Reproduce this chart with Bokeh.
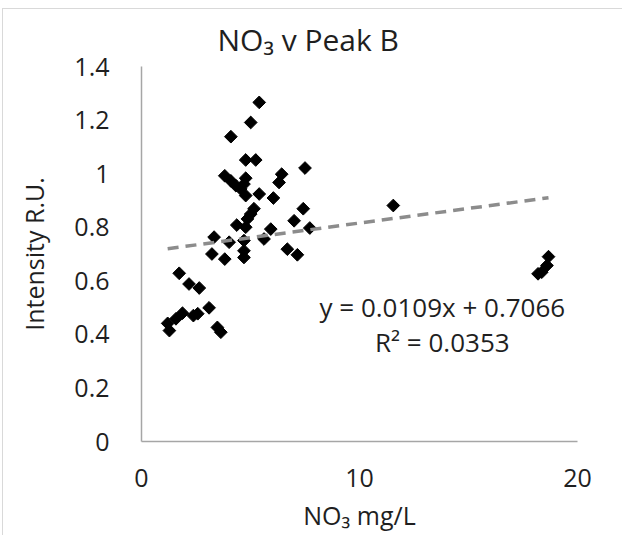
from bokeh.plotting import figure
from bokeh.models import Range1d, FixedTicker, NumeralTickFormatter, Label, ColumnDataSource
from bokeh.embed import file_html
from bokeh.resources import INLINE
import numpy as np

no3 = [5.40, 5.01, 4.10, 4.78, 5.24, 7.50, 3.82, 4.10, 4.78, 6.43, 6.31, 4.33, 4.55, 4.70,
       4.78, 5.40, 6.05, 5.16, 5.01, 4.86, 7.42, 4.37, 4.78, 7.00, 7.72, 5.93, 3.33, 5.62,
       4.02, 4.70, 4.70, 4.70, 3.23, 3.82, 6.69, 7.15, 1.73, 2.18, 2.65, 3.10, 2.58, 2.38,
       1.88, 1.58, 1.20, 1.28, 3.48, 3.64, 11.55, 18.67, 18.60, 18.36, 18.19]
peak_b = [1.266, 1.191, 1.138, 1.051, 1.051, 1.021, 0.992, 0.973, 0.983, 0.998, 0.967, 0.955,
          0.943, 0.961, 0.918, 0.924, 0.909, 0.869, 0.849, 0.831, 0.869, 0.808, 0.800, 0.824,
          0.797, 0.793, 0.763, 0.756, 0.744, 0.750, 0.712, 0.687, 0.700, 0.681, 0.718, 0.697,
          0.628, 0.588, 0.573, 0.499, 0.477, 0.470, 0.479, 0.458, 0.441, 0.414, 0.426, 0.408,
          0.881, 0.690, 0.657, 0.632, 0.626]
slope = 0.0109
intercept = 0.7066
r2 = 0.0353
x_ticks = [0, 10, 20]
y_ticks = [0, 0.2, 0.4, 0.6, 0.8, 1.0, 1.2, 1.4]

FONT = "Open Sans"
TXT = "#1f1f1f"
AX = "#a6a6a6"

p = figure(width=622, height=535, output_backend="svg", toolbar_location=None,
           x_range=Range1d(0, 20), y_range=Range1d(0, 1.4),
           min_border_left=141, min_border_right=45, min_border_top=66, min_border_bottom=94)
p.outline_line_color = None
p.xgrid.grid_line_color = None
p.ygrid.grid_line_color = None
p.border_fill_color = None
p.background_fill_color = "white"
p.styles = {
    "background": "linear-gradient(#d9d9d9, #d9d9d9) 2px 8px / 100% 1px no-repeat, "
                  "linear-gradient(#d9d9d9, #d9d9d9) 2px 8px / 1px 100% no-repeat, white"
}

p.title.text = "NO\u2083 v Peak B"
p.title.text_font = FONT
p.title.text_font_size = "30px"
p.title.text_font_style = "normal"
p.title.text_color = TXT
p.title.align = "left"
p.title.offset = 76
p.title.standoff = 13

p.xaxis.ticker = FixedTicker(ticks=x_ticks)
p.yaxis.ticker = FixedTicker(ticks=y_ticks)
p.yaxis.formatter = NumeralTickFormatter(format="0.[0]")
for ax in (p.xaxis[0], p.yaxis[0]):
    ax.major_tick_line_color = None
    ax.minor_tick_line_color = None
    ax.axis_line_color = AX
    ax.axis_line_width = 1.5
    ax.major_label_text_font = FONT
    ax.major_label_text_font_size = "25px"
    ax.major_label_text_color = TXT
    ax.axis_label_text_font = FONT
    ax.axis_label_text_font_size = "25px"
    ax.axis_label_text_font_style = "normal"
    ax.axis_label_text_color = TXT
p.xaxis.axis_label = "NO\u2083 mg/L"
p.yaxis.axis_label = "Intensity R.U."
p.xaxis.major_label_standoff = 21
p.xaxis.axis_label_standoff = 8
p.yaxis.major_label_standoff = 26
p.yaxis.axis_label_standoff = 20

src = ColumnDataSource(dict(x=no3, y=peak_b))
p.scatter("x", "y", source=src, marker="square", size=9, angle=np.pi / 4,
          fill_color="black", line_color="black")

xmin, xmax = min(no3), max(no3)
p.line([xmin, xmax], [slope * xmin + intercept, slope * xmax + intercept],
       line_color="#8c8c8c", line_width=3.5, line_dash="11 7")

eq = Label(x=13.8, y=0.504, text=f"y = {slope}x + {intercept}", text_align="center",
           text_baseline="alphabetic", text_font=FONT, text_font_size="26px", text_color=TXT)
rr = Label(x=13.8, y=0.373, text=f"R\u00b2 = {r2}", text_align="center",
           text_baseline="alphabetic", text_font=FONT, text_font_size="26px", text_color=TXT)
p.add_layout(eq)
p.add_layout(rr)

open("out.html", "w").write(file_html(p, INLINE))
